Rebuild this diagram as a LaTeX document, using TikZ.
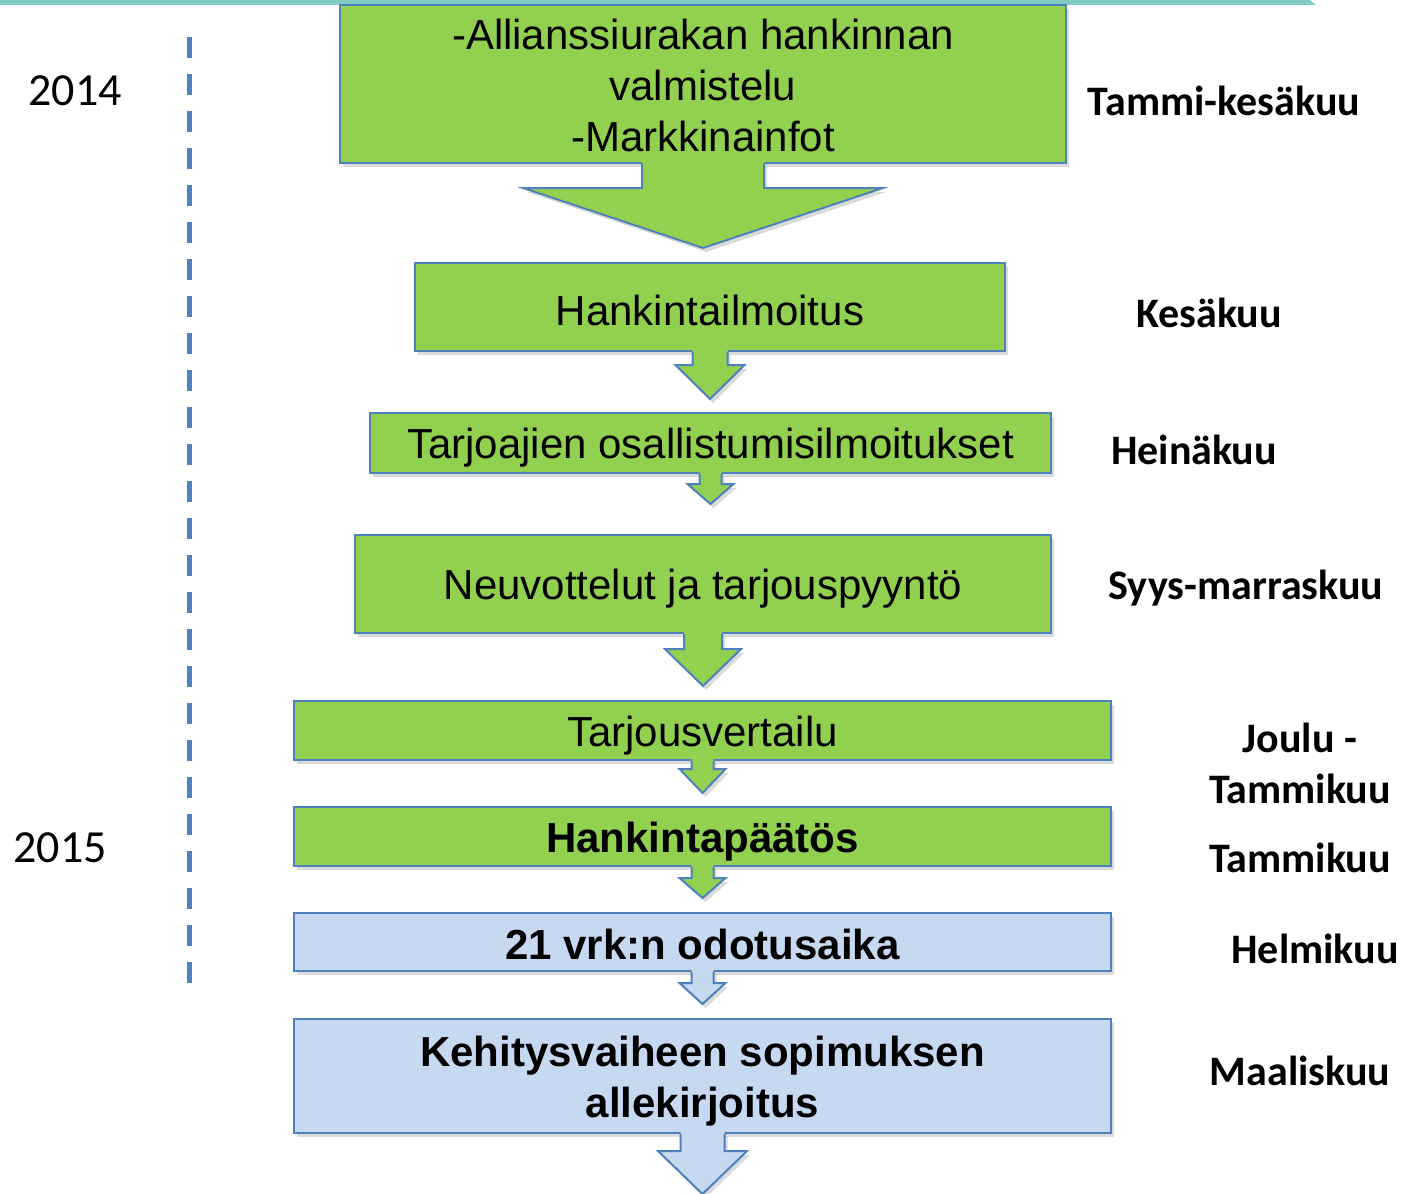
\documentclass[tikz,border=0pt]{standalone}
\usepackage{fontspec}
\setmainfont{Liberation Sans}
\newfontfamily\calib{Carlito}
\usetikzlibrary{shadows,calc}
\definecolor{boxgreen}{HTML}{92D050}
\definecolor{boxblue}{HTML}{C6D9F1}
\definecolor{edgeblue}{HTML}{4F81BD}
\definecolor{barteal}{HTML}{7FCCC6}
\tikzset{
  softshadow/.style={drop shadow={opacity=0.28, shadow xshift=3pt, shadow yshift=-4pt}},
  stage/.style={draw=edgeblue, line width=2pt, fill=boxgreen, inner sep=0pt, softshadow},
  bluestage/.style={stage, fill=boxblue},
  stagetext/.style={inner sep=0pt, align=center, font=\fontsize{42}{51}\selectfont},
  boldtext/.style={stagetext, font=\fontsize{42}{51}\selectfont\bfseries},
  month/.style={font=\calib\bfseries\fontsize{42}{51}\selectfont, align=center, inner sep=0pt},
  yearlabel/.style={font=\calib\fontsize{46}{50}\selectfont, inner sep=0pt},
  arrowedge/.style={draw=edgeblue, line width=2pt, line join=miter},
}
% #1 node, #2 shaft half width, #3 shaft length, #4 head half width, #5 head length, #6 fill
\newcommand\flowarrow[6]{%
  \path[fill=#6, softshadow] ($(#1.south)+(-#2,-2)$) -- ++(0,#3+2) -- ++(-#4+#2,0) -- ++(#4,#5)
     -- ++(#4,-#5) -- ++(-#4+#2,0) -- ++(0,-#3-2) -- cycle;
  \draw[arrowedge] ($(#1.south)+(-#2,0)$) -- ++(0,#3) -- ++(-#4+#2,0) -- ++(#4,#5)
     -- ++(#4,-#5) -- ++(-#4+#2,0) -- ++(0,-#3);
}
\begin{document}
\begin{tikzpicture}[x=1pt, y=-1pt]
\useasboundingbox (0,0) rectangle (1404,1193);
\fill[white] (0,0) rectangle (1404,1193);
\fill[barteal] (0,0) -- (1310,0) -- (1316,5) -- (0,5) -- cycle;

\coordinate (tlTop) at (189,37);
\coordinate (tlBot) at (189,990);
\draw[edgeblue, line width=5pt, dash pattern=on 21pt off 16pt] (tlTop) -- (tlBot);

\node[yearlabel] (y2014) at (75,91) {2014};
\node[yearlabel] (y2015) at (60,848) {2015};

\node[stage, minimum width=726pt, minimum height=158pt] (b1) at (703,84) {};
\node[stage, minimum width=590pt, minimum height=88pt] (b2) at (710,307) {};
\node[stage, minimum width=681pt, minimum height=60pt] (b3) at (710.5,443) {};
\node[stage, minimum width=696pt, minimum height=98pt] (b4) at (703,584) {};
\node[stage, minimum width=817pt, minimum height=59pt] (b5) at (702.5,730.5) {};
\node[stage, minimum width=817pt, minimum height=59pt] (b6) at (702.5,836.5) {};
\node[bluestage, minimum width=817pt, minimum height=58pt] (b7) at (702.5,942) {};
\node[bluestage, minimum width=817pt, minimum height=114pt] (b8) at (702.5,1076) {};

\node[stagetext] (t1) at ($(b1.center)+(0,1)$) {-Allianssiurakan hankinnan\\valmistelu\\-Markkinainfot};
\node[stagetext] (t2) at ($(b2.center)+(0,3)$) {Hankintailmoitus};
\node[stagetext] (t3) at ($(b3.center)+(0,5)$) {Tarjoajien osallistumisilmoitukset};
\node[stagetext] (t4) at ($(b4.center)+(0,5)$) {Neuvottelut ja tarjouspyyntö};
\node[stagetext] (t5) at ($(b5.center)+(0,5)$) {Tarjousvertailu};
\node[boldtext] (t6) at ($(b6.center)+(0,5)$) {Hankintapäätös};
\node[boldtext] (t7) at ($(b7.center)+(0,2)$) {21 vrk:n odotusaika};
\node[boldtext] (t8) at ($(b8.center)+(0,5)$) {Kehitysvaiheen sopimuksen\\allekirjoitus};

\flowarrow{b1}{61}{24}{180}{60}{boxgreen}
\flowarrow{b2}{17.5}{13}{34.5}{34}{boxgreen}
\flowarrow{b3}{11}{10}{23}{20}{boxgreen}
\flowarrow{b4}{19}{15}{38}{37}{boxgreen}
\flowarrow{b5}{11}{8}{23}{24}{boxgreen}
\flowarrow{b6}{11}{11}{23}{20}{boxgreen}
\flowarrow{b7}{11}{11}{23}{21}{boxblue}
\flowarrow{b8}{22}{17}{44.5}{43}{boxblue}

\node[month] (m1) at (1224,101) {Tammi-kesäkuu};
\node[month] (m2) at (1209,313) {Kesäkuu};
\node[month] (m3) at (1194,450) {Heinäkuu};
\node[month] (m4) at (1246,588) {Syys-marraskuu};
\node[month] (m5) at (1300,763.5) {Joulu -\\Tammikuu};
\node[month] (m6) at (1300,858) {Tammikuu};
\node[month] (m7) at (1315,949) {Helmikuu};
\node[month] (m8) at (1300,1071) {Maaliskuu};
\end{tikzpicture}
\end{document}
